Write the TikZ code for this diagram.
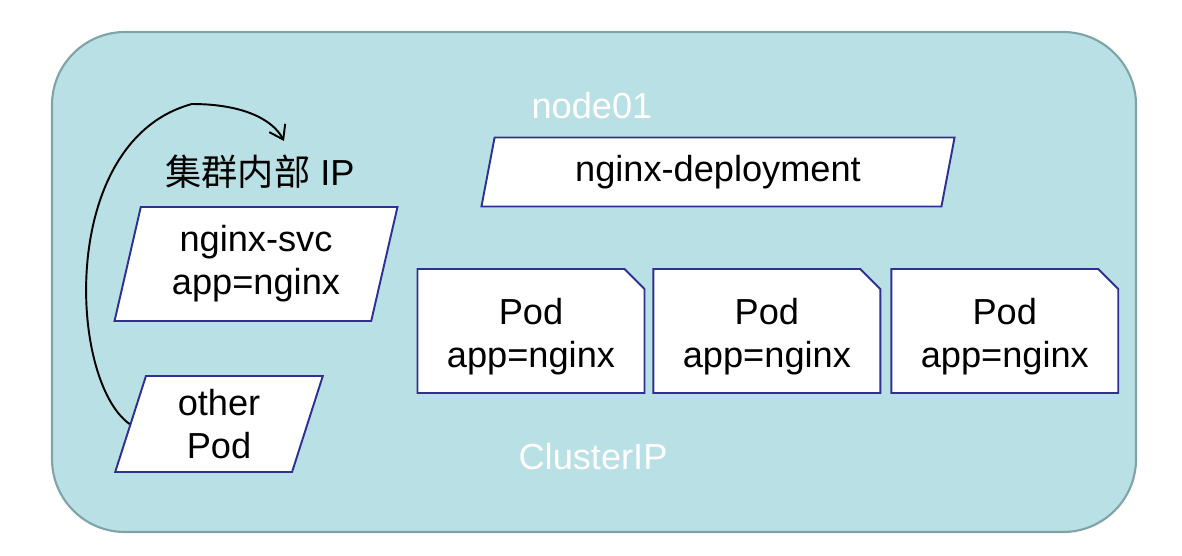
\documentclass[tikz,border=0pt]{standalone}
\usepackage{fontspec}
\setmainfont{Liberation Sans}
\newfontfamily\cjkfont{Noto Sans CJK SC}
\usetikzlibrary{shapes.geometric, shapes.misc, positioning, arrows.meta}
\definecolor{clusterbg}{HTML}{B9E0E4}
\definecolor{clusterline}{HTML}{7FA3A6}
\definecolor{boxline}{HTML}{2F3192}
\begin{document}
\begin{tikzpicture}[x=0.02cm, y=-0.02cm,
  para/.style={draw=boxline, fill=white, line width=1.1pt, trapezium, trapezium left angle=76, trapezium right angle=104, trapezium stretches=true, align=center, inner sep=0pt, font=\fontsize{20.6}{24.5}\selectfont},
  podbox/.style={draw=boxline, fill=white, line width=1.1pt, chamfered rectangle, chamfered rectangle corners=north east, chamfered rectangle xsep=0.2cm, chamfered rectangle ysep=0.2cm, minimum width=4.54cm, minimum height=2.48cm, inner sep=0pt, align=center, font=\fontsize{20.6}{24.5}\selectfont},
  lbl/.style={font=\fontsize{20.6}{24.5}\selectfont},
  >={Straight Barb[length=0.26cm, width=0.36cm]}]
  \useasboundingbox (0,0) rectangle (1182,555);
  \fill[white] (0,0) rectangle (1182,555);
  \draw[clusterline, fill=clusterbg, line width=1.2pt, rounded corners=1.46cm] (52,32) rectangle (1136,532);
  \node[lbl, text=white] (nodename) at (592,106) {node01};
  \node[lbl, text=white] (svctype) at (593,457) {ClusterIP};
  \node[para, minimum width=9.48cm, minimum height=1.38cm] (deploy) at (718,172) {nginx-deployment};
  \node[para, minimum width=5.66cm, minimum height=2.28cm] (svc) at (256,264) {nginx-svc\\app=nginx};
  \node[para, minimum width=4.18cm, minimum height=1.92cm] (other) at (219,424) {other\\Pod};
  \node[lbl] (inip) at (260,172) {{\cjkfont 集群内部} IP};
  \node[podbox] (pod1) at (531,331) {\\[-0.13cm]Pod\\app=nginx};
  \node[podbox, right=0.14cm of pod1] (pod2) {\\[-0.13cm]Pod\\app=nginx};
  \node[podbox, right=0.18cm of pod2] (pod3) {\\[-0.13cm]Pod\\app=nginx};
  \coordinate (iptip) at (284,141);
  \draw[->, line width=1.1pt] (other.west) .. controls (68,380) and (58,140) .. (192,104) .. controls (240,104) and (272,118) .. (iptip);
\end{tikzpicture}
\end{document}
